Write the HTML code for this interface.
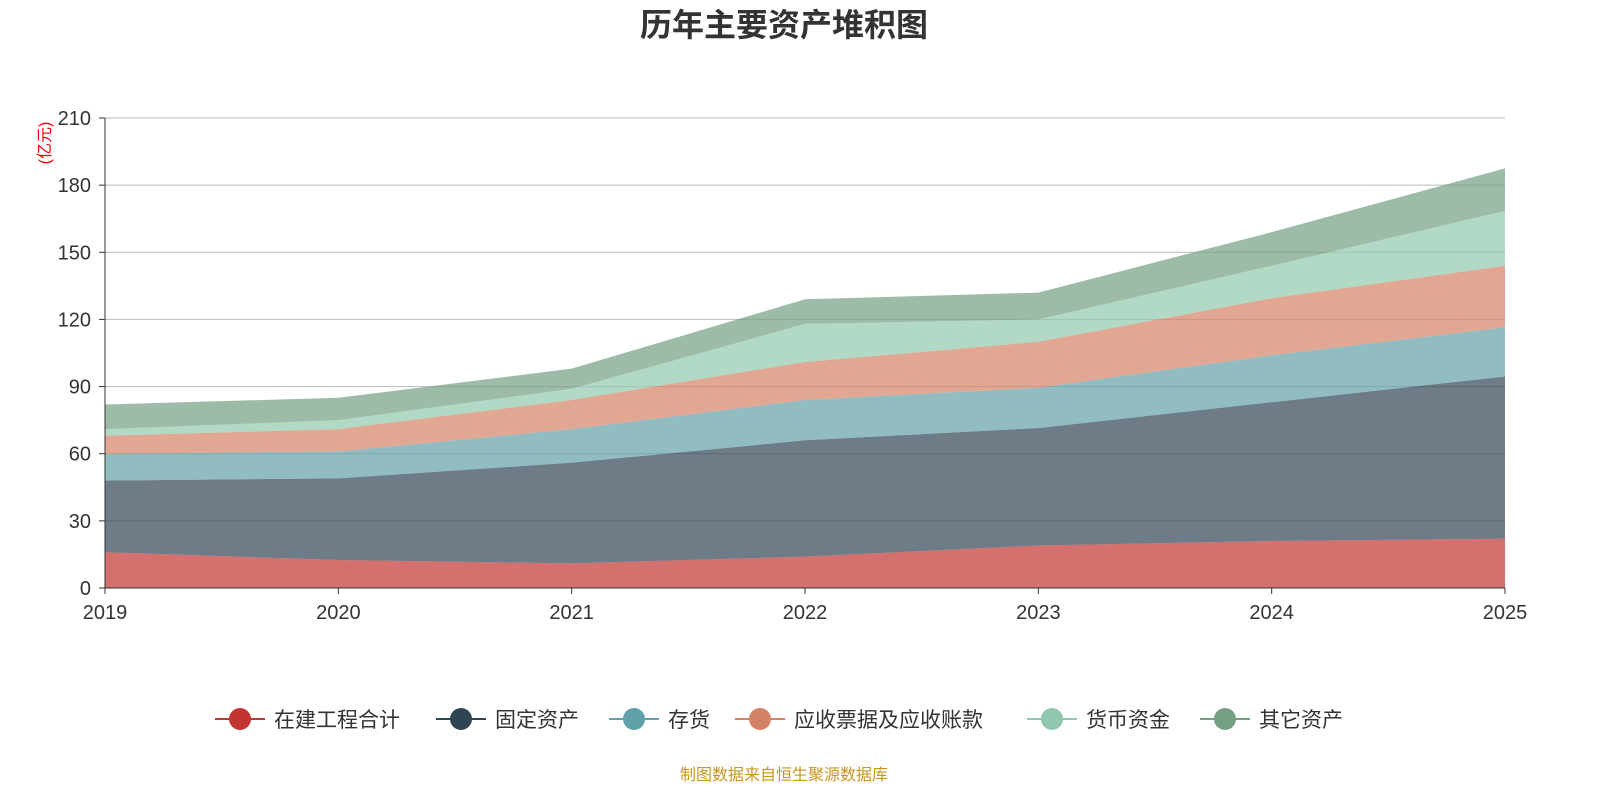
<!DOCTYPE html>
<html><head><meta charset="utf-8"><style>
html,body{margin:0;padding:0;background:#fff;width:1600px;height:800px;overflow:hidden}
svg text{font-family:"Liberation Sans","Noto Sans CJK SC",sans-serif}
</style></head><body>
<svg id="chart" width="1600" height="800" xmlns="http://www.w3.org/2000/svg">
<text x="784" y="36" text-anchor="middle" font-size="32" font-weight="bold" fill="#333">历年主要资产堆积图</text>
<text transform="translate(50,143) rotate(-90)" text-anchor="middle" font-size="16" fill="#e00">(亿元)</text>
<g id="grid"></g><g id="areas"></g><g id="axes"></g><g id="legend"></g>
<text x="784" y="780" text-anchor="middle" font-size="16" fill="#c8961e">制图数据来自恒生聚源数据库</text>
</svg>
<script>
const years=['2019','2020','2021','2022','2023','2024','2025'];
const seriesNames=['在建工程合计','固定资产','存货','应收票据及应收账款','货币资金','其它资产'];
const construction=[16,12.5,11,14,19,21,22];
const fixedAssets=[32,36.5,45,52,52.5,62,72.5];
const inventory=[12,12,15,18,18,21,22];
const receivables=[8,10,13,17,20.5,25.5,27.5];
const cash=[3,4,5,17,10,14.5,24.5];
const otherAssets=[11,10,9,11,12,15,19];
const yTicks=[0,30,60,90,120,150,180,210];
const colors=['#c23531','#2f4554','#61a0a8','#d48265','#91c7ae','#749f83'];
const series=[construction,fixedAssets,inventory,receivables,cash,otherAssets];
const X0=105,X1=1505,Y0=588,Y1=118,YMAX=210;
const xs=i=>X0+(X1-X0)*i/(years.length-1);
const ys=v=>Y0-(Y0-Y1)*v/YMAX;
const NS='http://www.w3.org/2000/svg';
function mk(tag,attrs,parent){const e=document.createElementNS(NS,tag);for(const k in attrs)e.setAttribute(k,attrs[k]);parent.appendChild(e);return e;}
const grid=document.getElementById('grid'),areas=document.getElementById('areas'),axes=document.getElementById('axes'),legend=document.getElementById('legend');
yTicks.forEach(t=>{
 const y=ys(t);
 if(t>0){const l=mk('line',{x1:X0,x2:X1,y1:y,y2:y,stroke:'#bbb','stroke-width':1},grid);
 
 }
 const tk=mk('line',{x1:X0-6,x2:X0,y1:y,y2:y,stroke:'#333'},axes);
 
 
 const tx=mk('text',{x:X0-14,y:y+7,'text-anchor':'end','font-size':20,fill:'#333'},axes);tx.textContent=t;
 
 
});
let base=years.map(()=>0);
series.forEach((s,si)=>{
 const top=base.map((b,i)=>b+s[i]);
 let d='M'+top.map((v,i)=>xs(i)+','+ys(v)).join(' L');
 for(let i=years.length-1;i>=0;i--)d+=' L'+xs(i)+','+ys(base[i]);
 const p=mk('path',{d:d+'Z',fill:colors[si],'fill-opacity':0.7,stroke:'none'},areas);
 
 
 base=top;
});
const ya=mk('line',{x1:X0,x2:X0,y1:Y1,y2:Y0,stroke:'#333'},axes);


const xa=mk('line',{x1:X0,x2:X1,y1:Y0,y2:Y0,stroke:'#333'},axes);


years.forEach((yr,i)=>{
 const tk=mk('line',{x1:xs(i),x2:xs(i),y1:Y0,y2:Y0+6,stroke:'#333'},axes);
 
 
 const t=mk('text',{x:xs(i),y:Y0+31,'text-anchor':'middle','font-size':20,fill:'#333'},axes);t.textContent=yr;
 
 
});
const legendX=[215,436,609,735,1027,1200];
seriesNames.forEach((n,i)=>{
 const g=mk('g',{},legend);
 
 
 const x=legendX[i],y=719;
 mk('line',{x1:x,x2:x+50,y1:y,y2:y,stroke:colors[i],'stroke-width':2},g);
 mk('circle',{cx:x+25,cy:y,r:11,fill:colors[i]},g);
 const t=mk('text',{x:x+59,y:y+8,'font-size':21,fill:'#333'},g);t.textContent=n;
});
</script>
</body></html>
